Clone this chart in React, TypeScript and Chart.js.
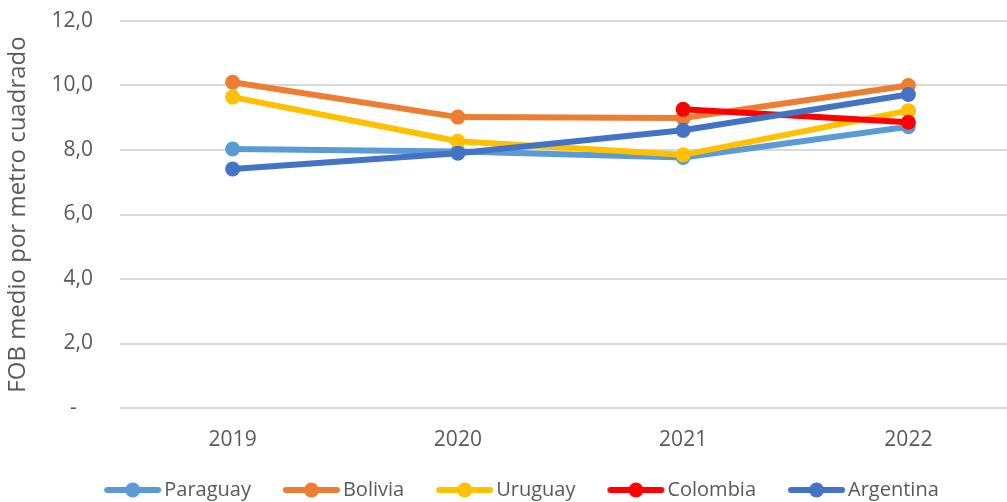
import React, { useEffect, useRef } from "react";
import { Chart, registerables } from "chart.js";

Chart.register(...registerables);

const categories = ["2019", "2020", "2021", "2022"];
const seriesNames = ["Paraguay", "Bolivia", "Uruguay", "Colombia", "Argentina"];
const paraguay = [8.03, 7.95, 7.77, 8.72];
const bolivia = [10.1, 9.02, 8.99, 10.0];
const uruguay = [9.64, 8.27, 7.85, 9.22];
const colombia = [null, null, 9.26, 8.86];
const argentina = [7.41, 7.9, 8.61, 9.72];
const seriesColors = ["#5B9BD5", "#ED7D31", "#FFC000", "#FF0000", "#4472C4"];
const yTickValues = [0, 2, 4, 6, 8, 10, 12];
const yTickLabels = ["-   ", "2,0", "4,0", "6,0", "8,0", "10,0", "12,0"];
const yTitle = "FOB medio por metro cuadrado";

const FONT = "'Open Sans', sans-serif";
const TEXT = "#595959";

function legendImage(color: string): HTMLCanvasElement {
  const c = document.createElement("canvas");
  c.width = 96;
  c.height = 16;
  const ctx = c.getContext("2d")!;
  ctx.strokeStyle = color;
  ctx.lineWidth = 6;
  ctx.lineCap = "round";
  ctx.beginPath();
  ctx.moveTo(37, 8);
  ctx.lineTo(88, 8);
  ctx.stroke();
  ctx.fillStyle = color;
  ctx.beginPath();
  ctx.arc(62.5, 8, 7.5, 0, Math.PI * 2);
  ctx.fill();
  return c;
}

export default function App() {
  const ref = useRef<HTMLCanvasElement | null>(null);
  useEffect(() => {
    document.body.style.margin = "0";
    document.body.style.overflow = "hidden";
    const all = [paraguay, bolivia, uruguay, colombia, argentina];
    const images = seriesColors.map(legendImage);
    const chart = new Chart(ref.current!, {
      type: "line",
      data: {
        labels: categories,
        datasets: all.map((d, i) => ({
          label: seriesNames[i],
          data: d,
          borderColor: seriesColors[i],
          backgroundColor: seriesColors[i],
          borderWidth: 6,
          pointRadius: 7.5,
          pointBorderWidth: 0,
          pointHoverRadius: 7.5,
          pointStyle: "circle",
          order: all.length - i,
          spanGaps: false,
        })),
      },
      options: {
        responsive: false,
        animation: false,
        layout: { autoPadding: false, padding: { top: 21, left: 0, right: 0, bottom: 0 } },
        scales: {
          x: {
            type: "category",
            offset: true,
            grid: { display: false },
            border: { display: false },
            ticks: { color: TEXT, font: { family: FONT, size: 21 }, padding: 11 },
            afterFit: (s: any) => {
              s.height = 62;
            },
          },
          y: {
            min: 0,
            max: 12,
            afterBuildTicks: (s: any) => {
              s.ticks = yTickValues.map((v) => ({ value: v }));
            },
            afterFit: (s: any) => {
              s.width = 120;
              s.paddingTop = 0;
              s.paddingBottom = 0;
            },
            grid: { color: "#D9D9D9", lineWidth: 2, drawTicks: false },
            border: { display: false },
            ticks: {
              color: TEXT,
              font: { family: FONT, size: 21 },
              padding: 27,
              callback: (v: any) => yTickLabels[yTickValues.indexOf(Number(v))] ?? "",
            },
            title: {
              display: true,
              text: yTitle,
              color: TEXT,
              font: { family: FONT, size: 24 },
              padding: { top: 4, bottom: 0 },
            },
          },
        },
        plugins: {
          tooltip: { enabled: false },
          legend: {
            position: "bottom",
            labels: {
              usePointStyle: true,
              pointStyleWidth: 72,
              boxHeight: 16,
              padding: 10,
              color: TEXT,
              font: { family: FONT, size: 20 },
              generateLabels: (c: any) =>
                c.data.datasets.map((ds: any, i: number) => ({
                  text: ds.label,
                  fillStyle: seriesColors[i],
                  strokeStyle: seriesColors[i],
                  lineWidth: 0,
                  pointStyle: images[i],
                  hidden: !c.isDatasetVisible(i),
                  datasetIndex: i,
                  fontColor: TEXT,
                })),
            },
          },
        },
      },
    } as any);
    return () => chart.destroy();
  }, []);
  return (
    <div style={{ width: 1021, height: 510, overflow: "hidden" }}>
      <canvas ref={ref} width={1021} height={510} style={{ display: "block" }} />
    </div>
  );
}
